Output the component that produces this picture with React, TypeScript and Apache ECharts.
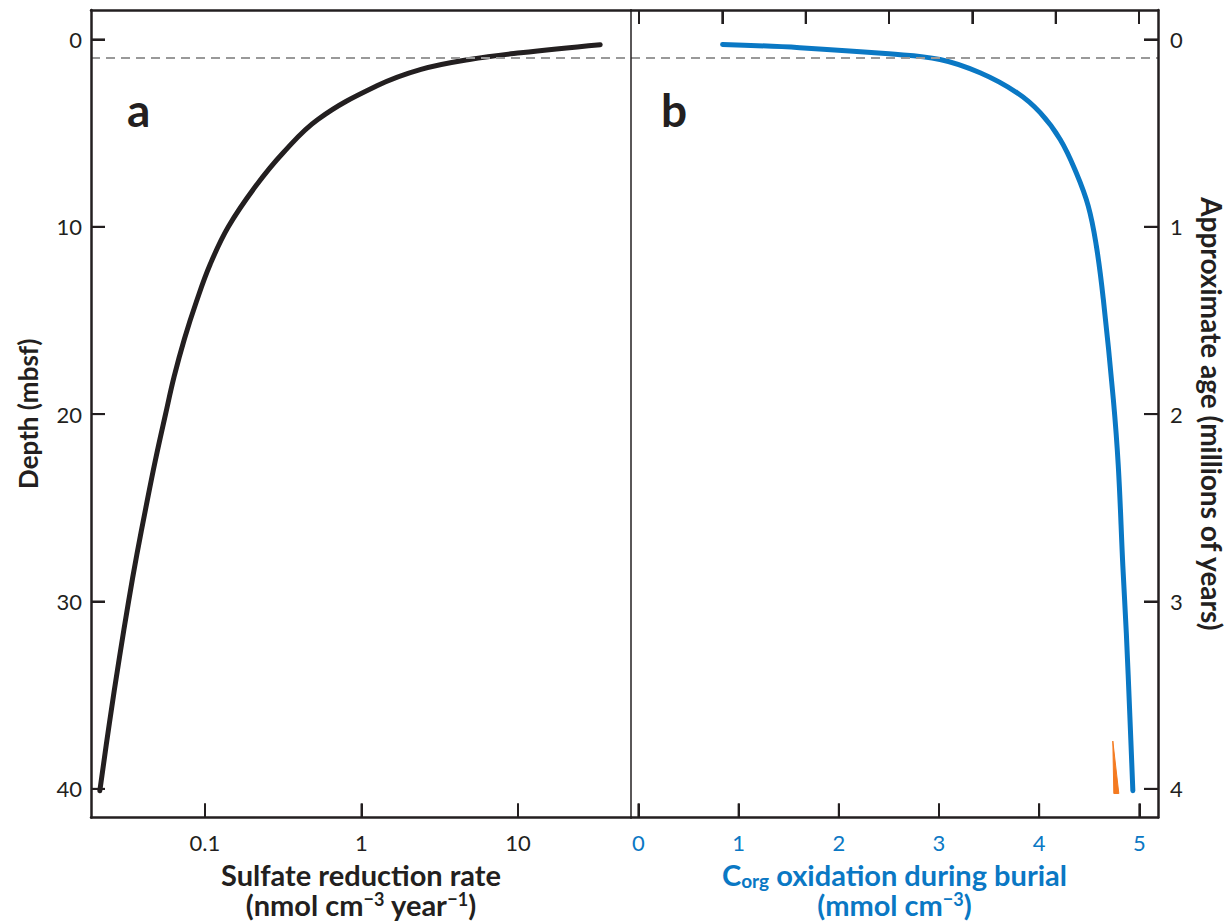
import React, { useEffect, useRef } from "react";
import * as echarts from "echarts";

// Panel a: sulfate reduction rate (nmol cm-3 yr-1) vs depth (mbsf)
const sulfateRate = [33.5, 10.4, 4.89, 2.4, 1.245, 0.526, 0.316, 0.211, 0.141, 0.108, 0.0881, 0.0738, 0.0635, 0.056, 0.0481, 0.0419, 0.0367, 0.0325, 0.0284, 0.0245, 0.0213];
const sulfateDepth = [0.28, 0.71, 1.07, 1.6, 2.49, 4.27, 6.05, 7.83, 10, 12, 14, 16, 18, 20, 22.5, 25, 27.5, 30, 33, 36.5, 40.1];

// Panel b: Corg oxidation during burial (mmol cm-3) vs depth
const corgOx = [0.84, 1.61, 2.5, 3.01, 3.41, 3.78, 4.01, 4.21, 4.37, 4.49, 4.57, 4.64, 4.74, 4.79, 4.835, 4.87, 4.905, 4.935];
const corgDepth = [0.27, 0.44, 0.77, 1.07, 1.78, 2.85, 3.91, 5.34, 7.12, 8.9, 11.0, 13.86, 19.2, 22.8, 28.1, 31.7, 36.1, 40.1];

// Orange wedge near bottom of panel b
const wedgeX = [4.735, 4.745, 4.795];
const wedgeDepth = [37.45, 40.25, 40.25];

// Tick values
const depthTicks = [0, 10, 20, 30, 40];
const ageTicks = [0, 1, 2, 3, 4];
const corgTicks = [0, 1, 2, 3, 4, 5];
const topTicks = [0, 1, 2, 3, 4, 5, 6];
const sulfateTicks = [0.1, 1, 10];
const dashedDepth = 1;

const INK = "#231f20";
const BLUE = "#0a78c4";
const ORANGE = "#f47a20";
const FONT = "Lato";
const TICK_LEN = 14;

export default function App() {
  const ref = useRef<HTMLDivElement>(null);
  useEffect(() => {
    if (!ref.current) return;
    const chart = echarts.init(ref.current, null, { renderer: "svg" });
    const gridBase = { top: 10, height: 808, show: false, containLabel: false };
    const line = (w = 2.5) => ({ show: true, onZero: false, lineStyle: { color: INK, width: w } });
    const tick = { show: true, inside: true, length: TICK_LEN, lineStyle: { color: INK, width: 2 } };
    const letters = [
      { type: "text", left: 127, top: 86, style: { text: "a", font: `bold 46px ${FONT}`, fill: INK } },
      { type: "text", left: 661, top: 86, style: { text: "b", font: `bold 46px ${FONT}`, fill: INK } },
    ];
    const option: any = {
      animation: false,
      textStyle: { fontFamily: FONT },
      grid: [
        { ...gridBase, left: 91, width: 540 },
        { ...gridBase, left: 631, width: 527 },
      ],
      xAxis: [
        {
          type: "log", gridIndex: 0, position: "bottom", logBase: 10, min: 0.0187, max: 52.7, z: 10,
          axisLine: line(), splitLine: { show: false }, axisTick: { ...tick },
          axisLabel: {
            show: true, showMinLabel: false, showMaxLabel: false, margin: 14,
            color: INK, fontSize: 22, fontFamily: FONT,
            formatter: (v: number) => (sulfateTicks.some((t) => Math.abs(t - v) < 1e-9) ? String(v) : ""),
          },
          name: "{t|Sulfate reduction rate}\n{t|(nmol cm}{sup|−3}{t| year}{sup|−1}{t|)}",
          nameLocation: "middle", nameGap: 42,
          nameTextStyle: {
            color: INK, fontFamily: FONT, fontWeight: "bold", fontSize: 29, align: "center",
            rich: {
              t: { fontSize: 29, fontWeight: "bold", fontFamily: FONT, color: INK, lineHeight: 30 },
              sup: { fontSize: 18, fontWeight: "bold", fontFamily: FONT, color: INK, lineHeight: 19, verticalAlign: "top" },
            },
          },
        },
        {
          type: "value", gridIndex: 1, position: "bottom", min: -0.074, max: 5.186, z: 10,
          axisLine: line(), splitLine: { show: false }, axisTick: { ...tick, customValues: corgTicks },
          axisLabel: { show: true, customValues: corgTicks, margin: 14, color: BLUE, fontSize: 22, fontFamily: FONT },
          name: "{c|C}{sub|org}{c| oxidation during burial}\n{c|(mmol cm}{sup|−3}{c|)}",
          nameLocation: "middle", nameGap: 42,
          nameTextStyle: {
            color: BLUE, fontFamily: FONT, fontWeight: "bold", fontSize: 29, align: "center",
            rich: {
              c: { fontSize: 29, fontWeight: "bold", fontFamily: FONT, color: BLUE, lineHeight: 30 },
              sub: { fontSize: 19, fontWeight: "bold", fontFamily: FONT, color: BLUE, lineHeight: 20, verticalAlign: "bottom" },
              sup: { fontSize: 18, fontWeight: "bold", fontFamily: FONT, color: BLUE, lineHeight: 19, verticalAlign: "top" },
            },
          },
        },
        {
          type: "value", gridIndex: 1, position: "top", min: -0.096, max: 6.228, z: 10,
          axisLine: line(), splitLine: { show: false }, axisTick: { ...tick, customValues: topTicks }, axisLabel: { show: false },
        },
        {
          type: "log", gridIndex: 0, position: "top", logBase: 10, min: 0.0187, max: 52.7, z: 10,
          axisLine: line(), splitLine: { show: false }, axisTick: { show: false }, axisLabel: { show: false },
        },
      ],
      yAxis: [
        {
          type: "value", gridIndex: 0, position: "left", inverse: true, min: -1.57, max: 41.53, z: 10,
          axisLine: line(), splitLine: { show: false }, axisTick: { ...tick, customValues: depthTicks },
          axisLabel: { customValues: depthTicks, margin: 9, color: INK, fontSize: 22, fontFamily: FONT },
          name: "Depth (mbsf)", nameLocation: "middle", nameGap: 50,
          nameTextStyle: { color: INK, fontFamily: FONT, fontWeight: "bold", fontSize: 26 },
        },
        {
          type: "value", gridIndex: 1, position: "left", inverse: true, min: -1.57, max: 41.53, z: 10,
          axisLine: line(1.5), splitLine: { show: false }, axisTick: { show: false }, axisLabel: { show: false },
        },
        {
          type: "value", gridIndex: 1, position: "right", inverse: true, min: -0.157, max: 4.153, z: 10,
          axisLine: line(), splitLine: { show: false }, axisTick: { ...tick, customValues: ageTicks },
          axisLabel: { customValues: ageTicks, margin: 12, color: INK, fontSize: 22, fontFamily: FONT },
          name: "Approximate age (millions of years)", nameLocation: "middle", nameGap: 40, nameRotate: -90,
          nameTextStyle: { color: INK, fontFamily: FONT, fontWeight: "bold", fontSize: 28 },
        },
      ],
      graphic: letters,
      series: [
        {
          type: "line", xAxisIndex: 0, yAxisIndex: 0,
          data: sulfateRate.map((v, i) => [v, sulfateDepth[i]]),
          showSymbol: false, smooth: 0.4,
          lineStyle: { color: INK, width: 5, cap: "round", join: "round" },
          markLine: {
            silent: true, symbol: "none", label: { show: false },
            lineStyle: { color: "#999999", type: [9, 6], width: 2 },
            data: [{ yAxis: dashedDepth }],
          },
          z: 3,
        },
        {
          type: "line", xAxisIndex: 1, yAxisIndex: 1,
          data: corgOx.map((v, i) => [v, corgDepth[i]]),
          showSymbol: false, smooth: 0.4,
          lineStyle: { color: BLUE, width: 5, cap: "round", join: "round" },
          markLine: {
            silent: true, symbol: "none", label: { show: false },
            lineStyle: { color: "#999999", type: [9, 6], width: 2 },
            data: [{ yAxis: dashedDepth }],
          },
          z: 3,
        },
        {
          type: "custom", xAxisIndex: 1, yAxisIndex: 1,
          data: wedgeX.map((v, i) => [v, wedgeDepth[i]]),
          encode: { x: 0, y: 1 },
          renderItem: (params: any, api: any) => {
            if (params.dataIndex !== 0) return null;
            const pts = wedgeX.map((v, i) => api.coord([v, wedgeDepth[i]]));
            return { type: "polygon", shape: { points: pts }, style: { fill: ORANGE, stroke: ORANGE, lineWidth: 1, lineJoin: "round" } };
          },
          z: 2,
        },
      ],
    };
    chart.setOption(option);

    // Inward tick marks placed through the axes' own scales
    const tickLines: any[] = [];
    const addTick = (x1: number, y1: number, x2: number, y2: number) => {
      tickLines.push({ type: "line", z: 20, silent: true, shape: { x1, y1, x2, y2 }, style: { stroke: INK, lineWidth: 2 } });
    };
    const g0 = { xAxisIndex: 0, yAxisIndex: 0 };
    const bottom0 = chart.convertToPixel(g0, [1, 41.53])[1];
    const left0 = chart.convertToPixel(g0, [0.0187, 0])[0];
    sulfateTicks.forEach((v) => { const x = chart.convertToPixel(g0, [v, 0])[0]; addTick(x, bottom0, x, bottom0 - TICK_LEN); });
    depthTicks.forEach((d) => { const y = chart.convertToPixel(g0, [1, d])[1]; addTick(left0, y, left0 + TICK_LEN, y); });
    const g1 = { xAxisIndex: 1, yAxisIndex: 1 };
    const bottom1 = chart.convertToPixel(g1, [0, 41.53])[1];
    const top1 = chart.convertToPixel(g1, [0, -1.57])[1];
    corgTicks.forEach((v) => { const x = chart.convertToPixel(g1, [v, 0])[0]; addTick(x, bottom1, x, bottom1 - TICK_LEN); });
    topTicks.forEach((v) => { const x = chart.convertToPixel({ xAxisIndex: 2, yAxisIndex: 1 }, [v, 0])[0]; addTick(x, top1, x, top1 + TICK_LEN); });
    const g2 = { xAxisIndex: 1, yAxisIndex: 2 };
    const right1 = chart.convertToPixel(g2, [5.186, 0])[0];
    ageTicks.forEach((a) => { const y = chart.convertToPixel(g2, [0, a])[1]; addTick(right1, y, right1 - TICK_LEN, y); });
    chart.setOption({ graphic: [...letters, ...tickLines] });

    return () => chart.dispose();
  }, []);
  return <div ref={ref} style={{ position: "fixed", left: 0, top: 0, width: 1228, height: 924, background: "#fff" }} />;
}
